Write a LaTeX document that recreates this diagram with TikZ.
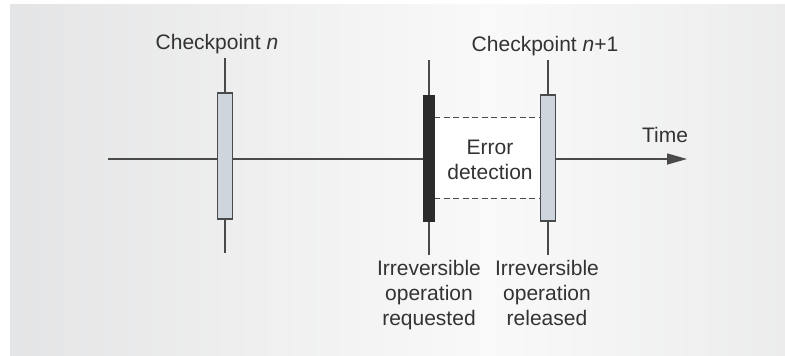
\documentclass[tikz,border=0pt]{standalone}
\usepackage{fontspec}
\setmainfont{Liberation Sans}
\usetikzlibrary{arrows.meta}
\definecolor{bgL}{HTML}{D3D4D6}
\definecolor{bgM}{HTML}{F9F9F9}
\definecolor{bgR}{HTML}{DADBDD}
\definecolor{ink}{HTML}{333333}
\definecolor{linec}{HTML}{4A4A4A}
\definecolor{cpfill}{HTML}{CFD5DC}
\definecolor{barfill}{HTML}{2B2B2B}
\pgfdeclarehorizontalshading{bgshade}{100bp}{color(0bp)=(bgL); color(56bp)=(bgM); color(100bp)=(bgR)}
\begin{document}
\begin{tikzpicture}[x=1pt,y=-1pt,
  lbl/.style={text=ink,font=\fontsize{21}{25}\selectfont,inner sep=0pt},
  axisline/.style={draw=linec,line width=1.5pt},
  cpbox/.style={draw=linec,line width=1.5pt,fill=cpfill,minimum width=15pt,minimum height=126pt,inner sep=0pt},
  opbox/.style={draw=barfill,line width=1pt,fill=barfill,minimum width=11pt,minimum height=126pt,inner sep=0pt},
  dashline/.style={draw=linec,line width=1.2pt,dash pattern=on 6pt off 3.5pt}]
\useasboundingbox (0,0) rectangle (785,356);
\shade[shading=bgshade] (10,4) rectangle (785,356);
% timeline
\coordinate (tstart) at (108,159);
\coordinate (tend) at (687,159);
\draw[axisline,-{Triangle[length=20pt,width=11pt]}] (tstart) -- (tend);
% error detection region
\node[fill=white,minimum width=106pt,minimum height=80pt,inner sep=0pt] (err) at (487.5,158) {};
\draw[dashline] (err.north west) -- (err.north east);
\draw[dashline] (err.south west) -- (err.south east);
\node[lbl,align=center] (errtxt) at (490,160) {Error\\detection};
% vertical lines
\coordinate (c1t) at (225,58); \coordinate (c1b) at (225,253);
\coordinate (opt) at (429,60); \coordinate (opb) at (429,255);
\coordinate (c2t) at (548,60); \coordinate (c2b) at (548,255);
\draw[axisline] (c1t) -- (c1b);
\draw[axisline] (opt) -- (opb);
\draw[axisline] (c2t) -- (c2b);
% boxes
\node[cpbox] (cp1) at (225,156) {};
\node[opbox] (op) at (429,158) {};
\node[cpbox] (cp2) at (548,158) {};
% labels
\node[lbl] (cp1lbl) at (217,44) {Checkpoint \textit{n}};
\node[lbl] (cp2lbl) at (545,46) {Checkpoint \textit{n}+1};
\node[lbl] (timelbl) at (665,135) {Time};
\node[lbl,align=center,anchor=north] (reqlbl) at (429,260) {Irreversible\\operation\\requested};
\node[lbl,align=center,anchor=north] (rellbl) at (547,260) {Irreversible\\operation\\released};
\end{tikzpicture}
\end{document}
